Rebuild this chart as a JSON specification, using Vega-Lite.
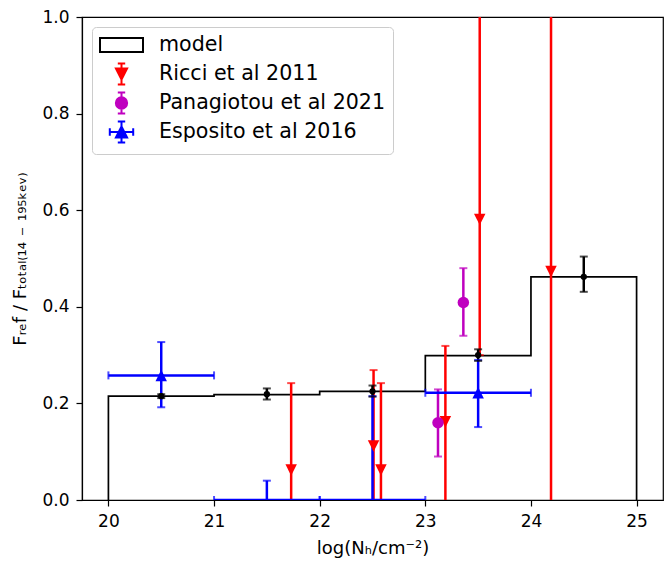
{
  "$schema": "https://vega.github.io/schema/vega-lite/v6.json",
  "width": 581,
  "height": 483,
  "autosize": {"type": "none"},
  "padding": {"left": 82, "top": 17, "right": 1, "bottom": 62},
  "background": "white",
  "config": {
    "font": "DejaVu Sans",
    "view": {"stroke": "black", "strokeWidth": 1.2},
    "axis": {
      "grid": false,
      "domainColor": "black",
      "domainWidth": 1.2,
      "tickColor": "black",
      "tickWidth": 1.2,
      "tickSize": 6,
      "labelColor": "black",
      "labelFont": "DejaVu Sans",
      "labelFontSize": 17,
      "labelPadding": 7,
      "titleColor": "black",
      "titleFont": "DejaVu Sans",
      "titleFontSize": 18,
      "titleFontWeight": "normal"
    }
  },
  "datasets": {
    "hist": [
      {"i": 0, "x": 20, "y": 0},
      {"i": 1, "x": 20, "y": 0.215},
      {"i": 2, "x": 21, "y": 0.218},
      {"i": 3, "x": 22, "y": 0.225},
      {"i": 4, "x": 23, "y": 0.299},
      {"i": 5, "x": 24, "y": 0.462},
      {"i": 6, "x": 25, "y": 0.462},
      {"i": 7, "x": 25, "y": 0}
    ],
    "pts": [
      {"series": "Ricci et al 2011", "x": 21.73, "y": 0.062, "ylo": -0.05, "yhi": 0.242},
      {"series": "Ricci et al 2011", "x": 22.51, "y": 0.112, "ylo": -0.05, "yhi": 0.269},
      {"series": "Ricci et al 2011", "x": 22.58, "y": 0.062, "ylo": -0.05, "yhi": 0.242},
      {"series": "Ricci et al 2011", "x": 23.19, "y": 0.162, "ylo": -0.05, "yhi": 0.319},
      {"series": "Ricci et al 2011", "x": 23.515, "y": 0.581, "ylo": 0.3, "yhi": 1.2},
      {"series": "Ricci et al 2011", "x": 24.19, "y": 0.473, "ylo": -0.05, "yhi": 1.2},
      {"series": "Panagiotou et al 2021", "x": 23.12, "y": 0.16, "ylo": 0.09, "yhi": 0.229},
      {"series": "Panagiotou et al 2021", "x": 23.36, "y": 0.409, "ylo": 0.34, "yhi": 0.48},
      {"series": "Esposito et al 2016", "x": 20.5, "y": 0.258, "ylo": 0.192, "yhi": 0.327, "xlo": 20, "xhi": 21},
      {"series": "Esposito et al 2016", "x": 21.5, "y": 0, "ylo": 0, "yhi": 0.04, "xlo": 21, "xhi": 22},
      {"series": "Esposito et al 2016", "x": 22.5, "y": 0, "ylo": 0, "yhi": 0.215, "xlo": 22, "xhi": 23},
      {"series": "Esposito et al 2016", "x": 23.5, "y": 0.222, "ylo": 0.151, "yhi": 0.29, "xlo": 23, "xhi": 24},
      {"series": "model", "x": 20.5, "y": 0.215, "ylo": 0.211, "yhi": 0.219},
      {"series": "model", "x": 21.5, "y": 0.219, "ylo": 0.208, "yhi": 0.231},
      {"series": "model", "x": 22.5, "y": 0.225, "ylo": 0.214, "yhi": 0.237},
      {"series": "model", "x": 23.5, "y": 0.3, "ylo": 0.288, "yhi": 0.312},
      {"series": "model", "x": 24.5, "y": 0.462, "ylo": 0.431, "yhi": 0.504}
    ]
  },
  "layer": [
    {
      "data": {"name": "hist"},
      "mark": {"type": "line", "interpolate": "step-after", "color": "black", "strokeWidth": 1.7, "clip": true},
      "encoding": {
        "x": {
          "field": "x", "type": "quantitative",
          "scale": {"domain": [19.75, 25.25], "nice": false, "zero": false},
          "axis": {"values": [20, 21, 22, 23, 24, 25], "format": "d", "title": "log(Nₕ/cm⁻²)", "titlePadding": 10}
        },
        "y": {
          "field": "y", "type": "quantitative",
          "scale": {"domain": [0, 1], "nice": false, "zero": false},
          "axis": {"values": [0, 0.2, 0.4, 0.6, 0.8, 1.0], "format": ".1f", "title": "Fᵣₑf / Fₜₒₜₐₗ₍₁₄ ₋ ₁₉₅ₖₑᵥ₎", "titlePadding": 12}
        },
        "order": {"field": "i", "type": "quantitative"}
      }
    },
    {
      "data": {"name": "pts"},
      "transform": [{"filter": "datum.x > 100"}],
      "mark": {"type": "point"},
      "encoding": {
        "x": {"field": "x", "type": "quantitative"},
        "y": {"field": "y", "type": "quantitative"},
        "shape": {
          "field": "series", "type": "nominal",
          "scale": {
            "domain": ["model", "Ricci et al 2011", "Panagiotou et al 2021", "Esposito et al 2016"],
            "range": [
              "M-1,-0.71H3.3V0.71H-1ZM1.15,-1.05M1.15,1.05",
              "M1.15,-1.05V1.05M0.78,-1.05H1.52M0.78,1.05H1.52M0.59,-0.56H1.71L1.15,0.56Z",
              "M1.15,-1.05V1.05M0.78,-1.05H1.52M0.78,1.05H1.52M0.585,0A0.565,0.565 0 1,0 1.715,0A0.565,0.565 0 1,0 0.585,0Z",
              "M1.15,-1.05V1.05M0.78,-1.05H1.52M0.78,1.05H1.52M-0.02,0H2.32M-0.02,-0.37V0.37M2.32,-0.37V0.37M1.15,-0.56L1.71,0.56H0.59Z"
            ]
          },
          "legend": {
            "title": null, "orient": "top-left", "offset": 10,
            "symbolSize": 400, "symbolStrokeWidth": 2, "symbolOpacity": 1,
            "labelFont": "DejaVu Sans", "labelFontSize": 20.6, "labelColor": "black", "labelLimit": 500,
            "labelOffset": 38, "rowPadding": -1, "padding": 7,
            "fillColor": "white", "strokeColor": "#cccccc", "cornerRadius": 4
          }
        },
        "fill": {
          "field": "series", "type": "nominal",
          "scale": {
            "domain": ["model", "Ricci et al 2011", "Panagiotou et al 2021", "Esposito et al 2016"],
            "range": ["white", "#ff0000", "#bf00bf", "#0000ff"]
          },
          "legend": {
            "title": null, "orient": "top-left", "offset": 10,
            "symbolSize": 400, "symbolStrokeWidth": 2, "symbolOpacity": 1,
            "labelFont": "DejaVu Sans", "labelFontSize": 20.6, "labelColor": "black", "labelLimit": 500,
            "labelOffset": 38, "rowPadding": -1, "padding": 7,
            "fillColor": "white", "strokeColor": "#cccccc", "cornerRadius": 4
          }
        },
        "stroke": {
          "field": "series", "type": "nominal",
          "scale": {
            "domain": ["model", "Ricci et al 2011", "Panagiotou et al 2021", "Esposito et al 2016"],
            "range": ["black", "#ff0000", "#bf00bf", "#0000ff"]
          },
          "legend": {
            "title": null, "orient": "top-left", "offset": 10,
            "symbolSize": 400, "symbolStrokeWidth": 2, "symbolOpacity": 1,
            "labelFont": "DejaVu Sans", "labelFontSize": 20.6, "labelColor": "black", "labelLimit": 500,
            "labelOffset": 38, "rowPadding": -1, "padding": 7,
            "fillColor": "white", "strokeColor": "#cccccc", "cornerRadius": 4
          }
        }
      }
    },
    {
      "data": {"name": "pts"},
      "mark": {"type": "rule", "strokeWidth": 2.5, "clip": true},
      "encoding": {
        "x": {"field": "x", "type": "quantitative"},
        "y": {"field": "ylo", "type": "quantitative"},
        "y2": {"field": "yhi"},
        "color": {
          "field": "series", "type": "nominal",
          "scale": {
            "domain": ["model", "Ricci et al 2011", "Panagiotou et al 2021", "Esposito et al 2016"],
            "range": ["black", "#ff0000", "#bf00bf", "#0000ff"]
          },
          "legend": null
        }
      }
    },
    {
      "data": {"name": "pts"},
      "transform": [{"filter": "isValid(datum.xlo)"}],
      "mark": {"type": "rule", "strokeWidth": 2.5, "clip": true, "color": "#0000ff"},
      "encoding": {
        "x": {"field": "xlo", "type": "quantitative"},
        "x2": {"field": "xhi"},
        "y": {"field": "y", "type": "quantitative"}
      }
    },
    {
      "data": {"name": "pts"},
      "transform": [{"fold": ["ylo", "yhi"], "as": ["k", "v"]}],
      "mark": {"type": "tick", "orient": "horizontal", "size": 8, "thickness": 2, "clip": true},
      "encoding": {
        "x": {"field": "x", "type": "quantitative"},
        "y": {"field": "v", "type": "quantitative"},
        "color": {"field": "series", "type": "nominal", "legend": null}
      }
    },
    {
      "data": {"name": "pts"},
      "transform": [{"filter": "isValid(datum.xlo)"}, {"fold": ["xlo", "xhi"], "as": ["k", "v"]}],
      "mark": {"type": "tick", "orient": "vertical", "size": 8, "thickness": 2, "clip": true, "color": "#0000ff"},
      "encoding": {
        "x": {"field": "v", "type": "quantitative"},
        "y": {"field": "y", "type": "quantitative"}
      }
    },
    {
      "data": {"name": "pts"},
      "transform": [{"filter": "datum.series == 'Ricci et al 2011'"}],
      "mark": {"type": "point", "shape": "M-1,-1H1L0,1Z", "size": 132, "filled": true, "color": "#ff0000", "opacity": 1, "clip": true},
      "encoding": {
        "x": {"field": "x", "type": "quantitative"},
        "y": {"field": "y", "type": "quantitative"}
      }
    },
    {
      "data": {"name": "pts"},
      "transform": [{"filter": "datum.series == 'Panagiotou et al 2021'"}],
      "mark": {"type": "point", "shape": "circle", "size": 132, "filled": true, "color": "#bf00bf", "opacity": 1, "clip": true},
      "encoding": {
        "x": {"field": "x", "type": "quantitative"},
        "y": {"field": "y", "type": "quantitative"}
      }
    },
    {
      "data": {"name": "pts"},
      "transform": [{"filter": "datum.series == 'Esposito et al 2016' && datum.y > 0"}],
      "mark": {"type": "point", "shape": "M0,-1L1,1H-1Z", "size": 132, "filled": true, "color": "#0000ff", "opacity": 1, "clip": true},
      "encoding": {
        "x": {"field": "x", "type": "quantitative"},
        "y": {"field": "y", "type": "quantitative"}
      }
    },
    {
      "data": {"name": "pts"},
      "transform": [{"filter": "datum.series == 'model'"}],
      "mark": {"type": "point", "shape": "circle", "size": 40, "filled": true, "color": "black", "opacity": 1, "clip": true},
      "encoding": {
        "x": {"field": "x", "type": "quantitative"},
        "y": {"field": "y", "type": "quantitative"}
      }
    }
  ]
}
